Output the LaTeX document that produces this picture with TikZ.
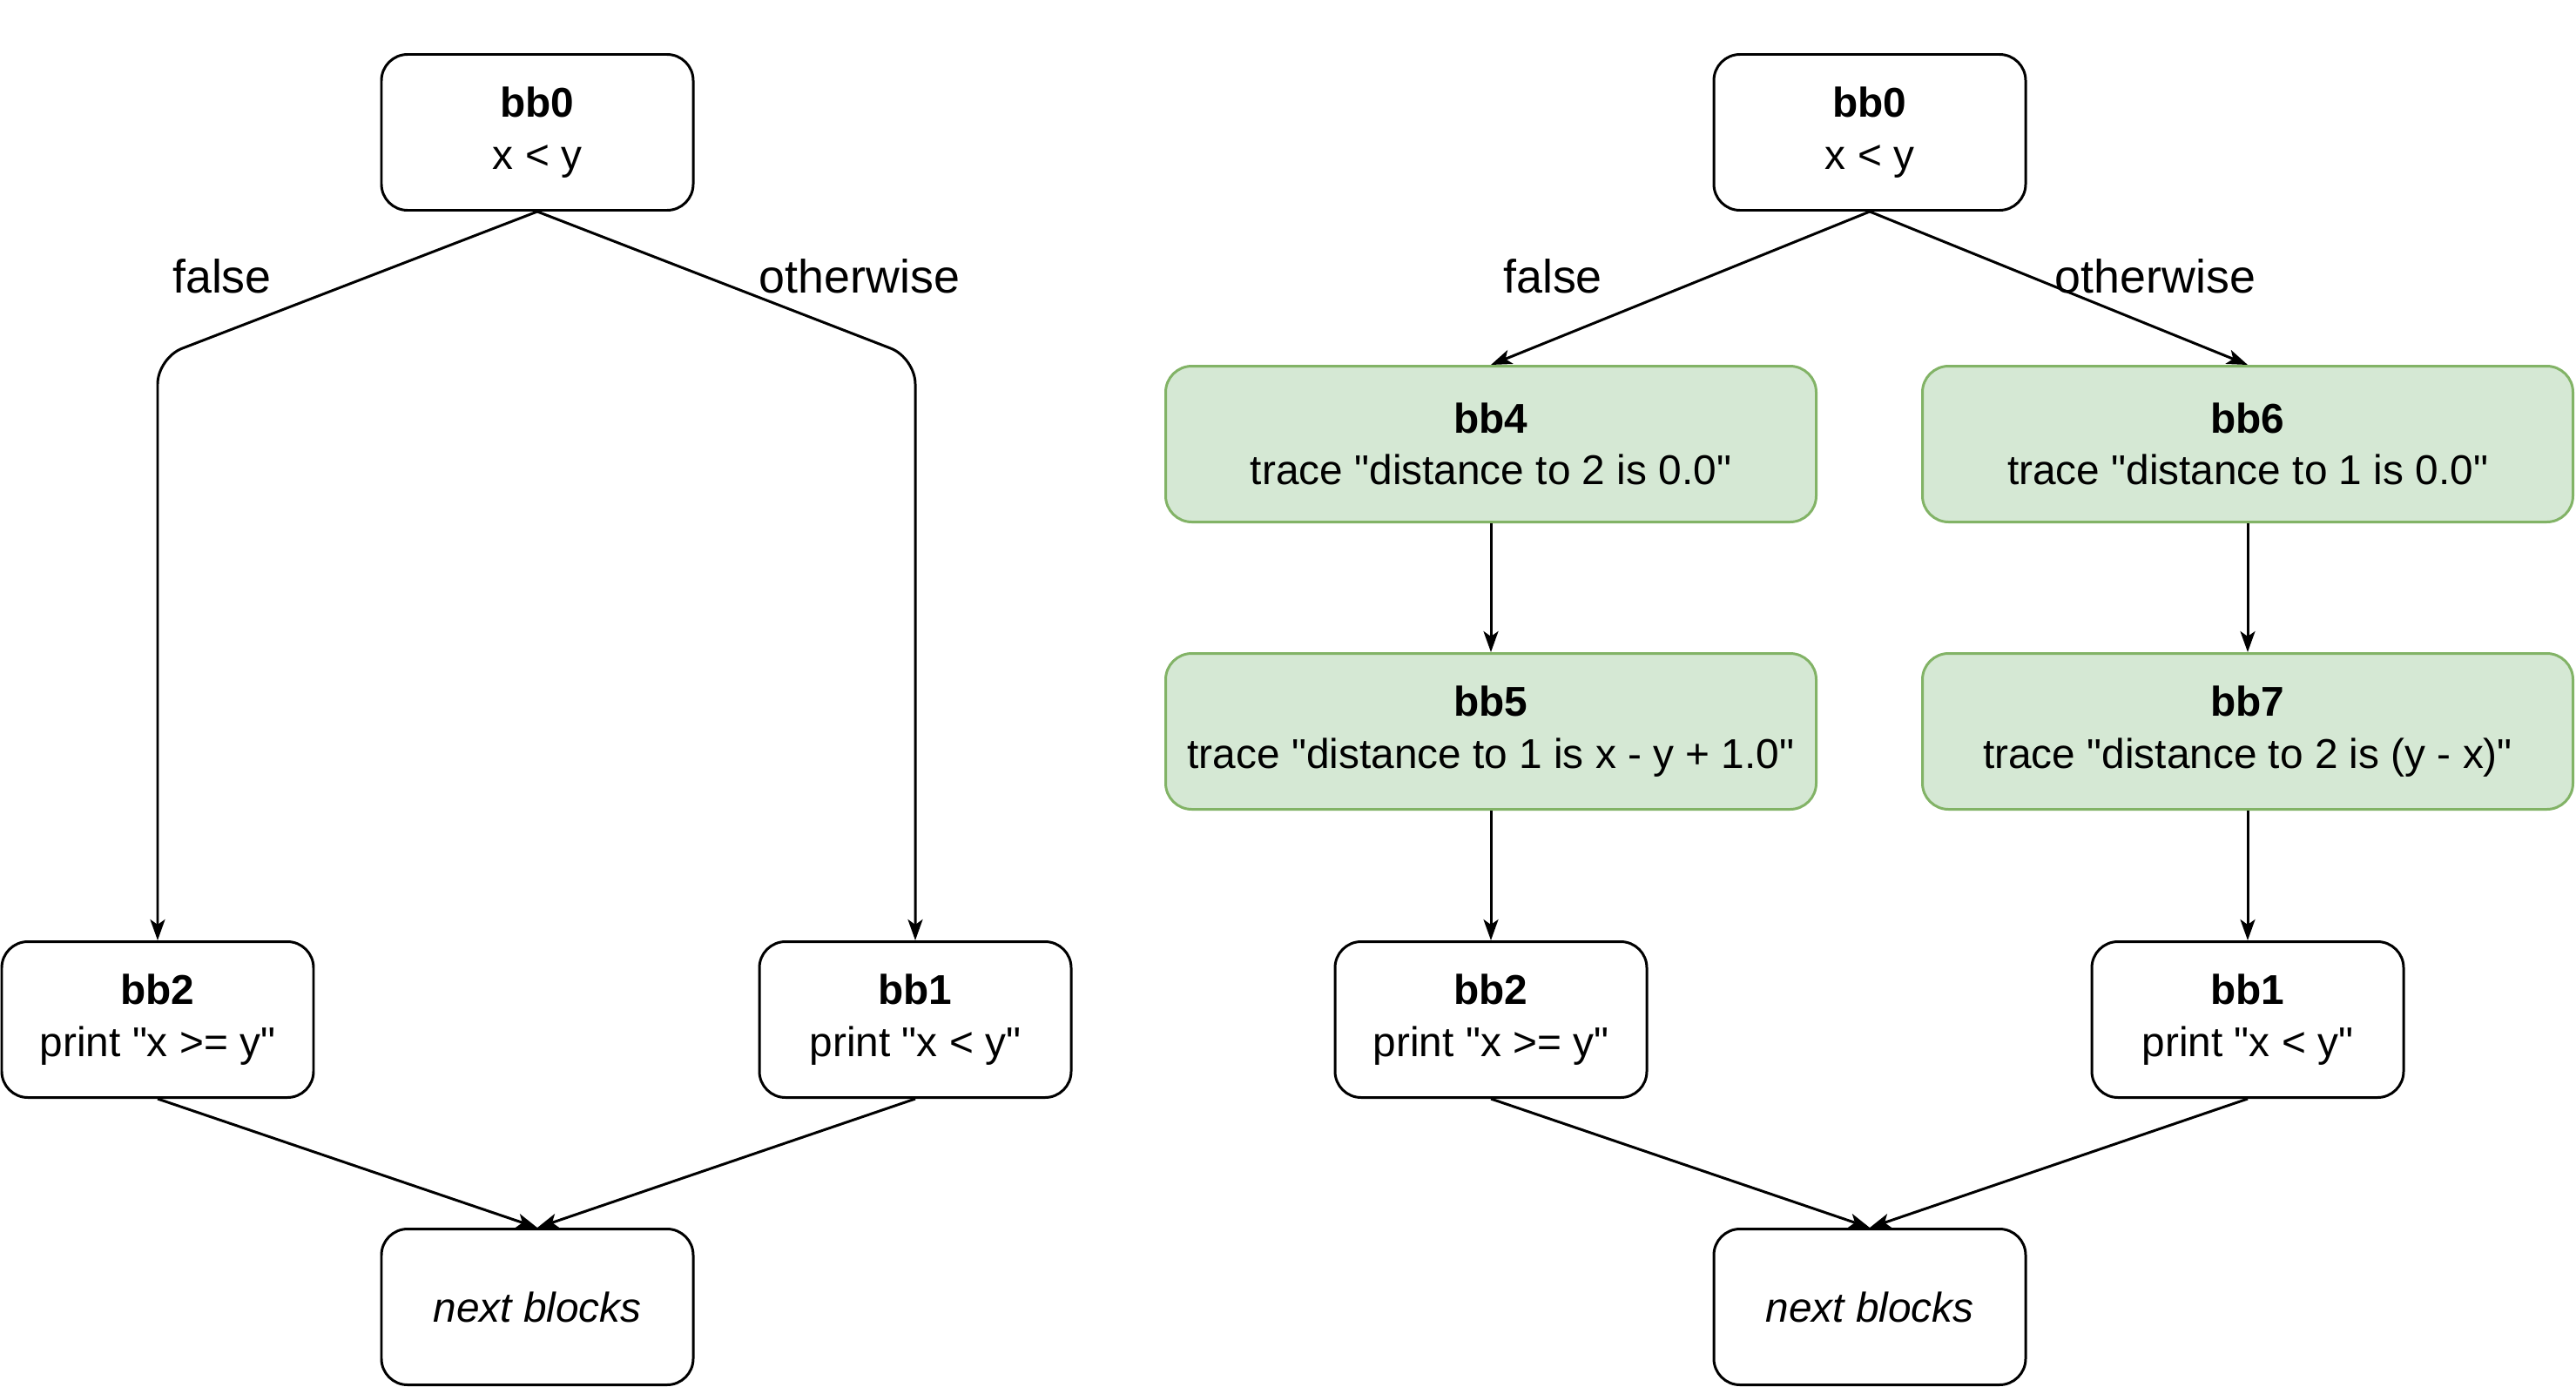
\documentclass[tikz,border=0pt]{standalone}
\usepackage{fontspec}
\setmainfont{Liberation Sans}[Ligatures=TeXOff]
\usepackage{xcolor}
\usetikzlibrary{arrows.meta,calc,positioning}
\definecolor{tracefill}{HTML}{D5E8D4}
\definecolor{tracedraw}{HTML}{82B366}
\tikzset{%
	block/.style     = {draw, line width=0.85pt, rectangle, rounded corners=0.3cm, minimum width=3.58cm, minimum height=1.79cm, align=center, font=\fontsize{13.6pt}{17pt}\selectfont},
	traceblock/.style= {block, draw=tracedraw, fill=tracefill, minimum width=7.47cm},
	arrow/.style     = {line width=0.85pt, -{Stealth[length=0.24cm,width=0.17cm,inset=0.06cm]}},
	edgetext/.style  = {font=\fontsize{15.3pt}{18pt}\selectfont},
}
\begin{document}
\begin{tikzpicture}
	\useasboundingbox (0,0) rectangle (29.58,-15.93);
	% original
	\node[block] (l0) at (6.17,-1.52) {\textbf{bb0}\\x < y};
	\node[block] (l2) at (1.81,-11.71) {\textbf{bb2}\\print "x >= y"};
	\node[block] (l1) at (10.51,-11.71) {\textbf{bb1}\\print "x < y"};
	\node[block] (lnext) at (6.17,-15.01) {\textit{next blocks}};
	\coordinate (lbend) at (0,-4.11);
	\draw[arrow, rounded corners=0.3cm] (l0.south) -- (l2.north |- lbend) -- (l2.north);
	\draw[arrow, rounded corners=0.3cm] (l0.south) -- (l1.north |- lbend) -- (l1.north);
	\draw[arrow] (l2.south) -- (lnext.north);
	\draw[arrow] (l1.south) -- (lnext.north);
	\node[edgetext] (lfalse) at (2.55,-3.17) {false};
	\node[edgetext] (lother) at (9.87,-3.17) {otherwise};
	% instrumented
	\node[block] (r0) at (21.47,-1.52) {\textbf{bb0}\\x < y};
	\node[traceblock] (r4) at (17.12,-5.10) {\textbf{bb4}\\trace "distance to 2 is 0.0"};
	\node[traceblock] (r6) at (25.81,-5.10) {\textbf{bb6}\\trace "distance to 1 is 0.0"};
	\node[traceblock] (r5) at (17.12,-8.40) {\textbf{bb5}\\trace "distance to 1 is x - y + 1.0"};
	\node[traceblock] (r7) at (25.81,-8.40) {\textbf{bb7}\\trace "distance to 2 is (y - x)"};
	\node[block] (r2) at (17.12,-11.71) {\textbf{bb2}\\print "x >= y"};
	\node[block] (r1) at (25.81,-11.71) {\textbf{bb1}\\print "x < y"};
	\node[block] (rnext) at (21.47,-15.01) {\textit{next blocks}};
	\draw[arrow] (r0.south) -- (r4.north);
	\draw[arrow] (r0.south) -- (r6.north);
	\draw[arrow] (r4) -- (r5);
	\draw[arrow] (r6) -- (r7);
	\draw[arrow] (r5) -- (r2);
	\draw[arrow] (r7) -- (r1);
	\draw[arrow] (r2.south) -- (rnext.north);
	\draw[arrow] (r1.south) -- (rnext.north);
	\node[edgetext] (rfalse) at (17.83,-3.17) {false};
	\node[edgetext] (rother) at (24.75,-3.17) {otherwise};
\end{tikzpicture}
\end{document}
